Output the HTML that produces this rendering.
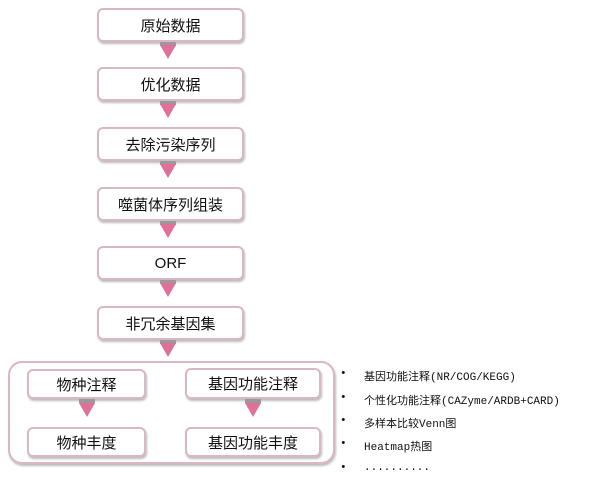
<!DOCTYPE html><html><head><meta charset="utf-8"><style>
body{margin:0;width:600px;height:481px;background:#fff;position:relative;font-family:"Liberation Sans","Noto Sans CJK SC",sans-serif;overflow:hidden}
.b{position:absolute;box-sizing:border-box;border:2px solid #d9b8c4;border-radius:6px;background:#fff;box-shadow:1px 2px 2px #bbb;display:flex;align-items:center;justify-content:center;font-size:15px;color:#111}
.t{position:absolute;width:0;height:0;border-left:8px solid transparent;border-right:8px solid transparent;border-top:14px solid #e0709a}
.g{position:absolute;width:16px;height:4px;background:#999}
.l{position:absolute;left:340px;font-size:11px;color:#111;font-family:"Liberation Mono","Noto Sans CJK SC",monospace}
.l span{position:absolute;left:24px;white-space:nowrap}
</style></head><body>
<div class="b" style="left:97px;top:8px;width:147px;height:34px">原始数据</div>
<div class="b" style="left:97px;top:67px;width:147px;height:34px">优化数据</div>
<div class="b" style="left:97px;top:127px;width:147px;height:34px">去除污染序列</div>
<div class="b" style="left:97px;top:187px;width:147px;height:34px">噬菌体序列组装</div>
<div class="b" style="left:97px;top:246px;width:147px;height:34px">ORF</div>
<div class="b" style="left:97px;top:306px;width:147px;height:34px">非冗余基因集</div>
<div class="g" style="left:160px;top:42px"></div><div class="t" style="left:160px;top:45px"></div>
<div class="g" style="left:160px;top:101px"></div><div class="t" style="left:160px;top:104px"></div>
<div class="g" style="left:160px;top:161px"></div><div class="t" style="left:160px;top:164px"></div>
<div class="g" style="left:160px;top:221px"></div><div class="t" style="left:160px;top:224px"></div>
<div class="g" style="left:160px;top:280px"></div><div class="t" style="left:160px;top:283px"></div>
<div class="g" style="left:160px;top:340px"></div><div class="t" style="left:160px;top:343px"></div>
<div class="b" style="left:8px;top:361px;width:327px;height:103px;border-radius:14px"></div>
<div class="b" style="left:27px;top:369px;width:119px;height:30px">物种注释</div>
<div class="b" style="left:185px;top:368px;width:136px;height:31px">基因功能注释</div>
<div class="b" style="left:27px;top:427px;width:119px;height:30px">物种丰度</div>
<div class="b" style="left:185px;top:427px;width:136px;height:30px">基因功能丰度</div>
<div class="g" style="left:79px;top:399px"></div><div class="t" style="left:79px;top:403px"></div>
<div class="g" style="left:245px;top:399px"></div><div class="t" style="left:245px;top:403px"></div>
<div class="l" style="top:368px">•<span>基因功能注释(NR/COG/KEGG)</span></div>
<div class="l" style="top:392px">•<span>个性化功能注释(CAZyme/ARDB+CARD)</span></div>
<div class="l" style="top:415px">•<span>多样本比较Venn图</span></div>
<div class="l" style="top:438px">•<span>Heatmap热图</span></div>
<div class="l" style="top:462px">•<span>..........</span></div>
</body></html>
